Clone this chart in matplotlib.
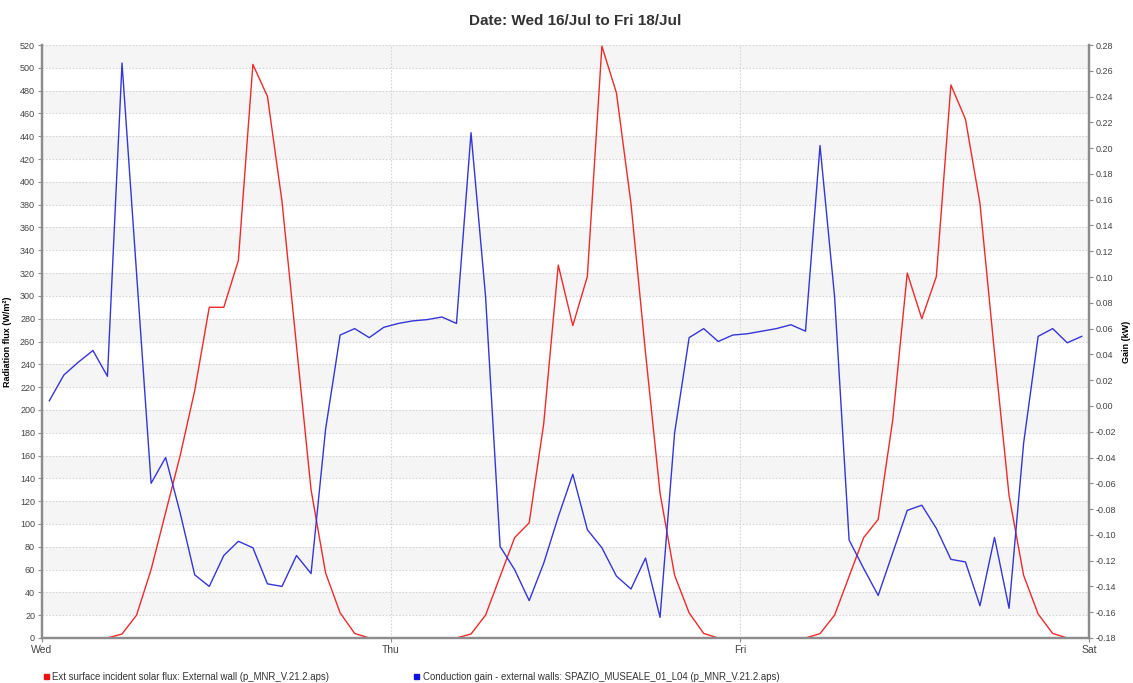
import matplotlib
matplotlib.use("Agg")
import matplotlib.pyplot as plt
from matplotlib.patches import Rectangle
import numpy as np

# hourly values, Wed 00:00 -> Sat 00:00, plotted at the middle of each hour
solar_flux = [
    0, 0, 0, 0, 0, 3.5, 20, 60, 110, 160, 217, 290,
    290, 331, 503, 475, 383, 256, 130, 57, 22, 4, 0, 0,
    0, 0, 0, 0, 0, 3.5, 20, 54, 88, 101, 188, 327,
    274, 317, 519, 478, 381, 250, 127, 55, 22, 4, 0, 0,
    0, 0, 0, 0, 0, 3.8, 20, 54, 88, 104, 191, 320,
    280, 317, 485, 455, 381, 250, 125, 55, 21, 4, 0, 0,
]
conduction_gain = [
    0.004, 0.024, 0.034, 0.043, 0.023, 0.266, 0.103, -0.060, -0.040, -0.083, -0.131, -0.140,
    -0.116, -0.105, -0.110, -0.138, -0.140, -0.116, -0.130, -0.018, 0.055, 0.060, 0.053, 0.061,
    0.064, 0.066, 0.067, 0.069, 0.064, 0.212, 0.085, -0.109, -0.127, -0.151, -0.122, -0.086,
    -0.053, -0.096, -0.110, -0.132, -0.142, -0.118, -0.164, -0.021, 0.053, 0.060, 0.050, 0.055,
    0.056, 0.058, 0.060, 0.063, 0.058, 0.202, 0.085, -0.104, -0.126, -0.147, -0.114, -0.081,
    -0.077, -0.095, -0.119, -0.121, -0.155, -0.102, -0.157, -0.029, 0.054, 0.060, 0.049, 0.054,
]
day_labels = ["Wed", "Thu", "Fri", "Sat"]
title = "Date: Wed 16/Jul to Fri 18/Jul"
flux_name = "Ext surface incident solar flux: External wall (p_MNR_V.21.2.aps)"
gain_name = "Conduction gain - external walls: SPAZIO_MUSEALE_01_L04 (p_MNR_V.21.2.aps)"

plt.rcParams["font.family"] = ["Liberation Sans", "DejaVu Sans"]

hours = (np.arange(len(solar_flux)) + 0.5) / 24.0
gain_ticks = np.round(np.arange(-0.18, 0.281, 0.02), 2)

fig = plt.figure(figsize=(11.33, 6.83), dpi=100)
ax = fig.add_axes([0.0371, 0.0659, 0.9241, 0.8682])
ax2 = ax.twinx()

# alternating horizontal bands
for lo in range(20, 520, 40):
    ax.axhspan(lo, lo + 20, color="#f5f5f5", zorder=0, lw=0)

ax.set_xlim(0, 3)
ax.set_ylim(0, 520)
ax2.set_ylim(-0.18, 0.28)

ax.set_yticks(np.arange(0, 521, 20))
ax2.set_yticks(gain_ticks)
ax2.set_yticklabels([f"{v:.2f}".replace("-0.00", "0.00") for v in gain_ticks])
ax.set_xticks(range(4))
ax.set_xticklabels(day_labels)

ax.grid(True, color="#d4d4d4", linestyle=(0, (1.5, 1.5)), lw=0.8)
ax.set_axisbelow(True)

ax.plot(hours, solar_flux, color="#ee2a2a", lw=1.0, zorder=3)
ax2.plot(hours, conduction_gain, color="#3535d8", lw=1.0, zorder=3)

for a in (ax, ax2):
    a.spines["top"].set_visible(False)
    for s in ("left", "right", "bottom"):
        a.spines[s].set_color("#8c8c8c")
        a.spines[s].set_linewidth(1.6)
    a.tick_params(axis="both", labelsize=6.5, labelcolor="#444444", color="#8c8c8c",
                  length=3, width=0.8, pad=2)
ax.tick_params(axis="x", labelsize=7.5, pad=2)

ax.set_ylabel("Radiation flux (W/m²)", fontsize=6.5, fontweight="bold", labelpad=6)
ax2.set_ylabel("Gain (kW)", fontsize=6.5, fontweight="bold", rotation=90, labelpad=4)

fig.text(0.508, 0.969, title, ha="center", va="center", fontsize=11,
         fontweight="bold", color="#333333")

# legend entries along the bottom
for x0, col, name in [(0.0388, "#ee1111", flux_name), (0.3655, "#1111dd", gain_name)]:
    fig.patches.append(Rectangle((x0, 0.0055), 0.0045, 0.0075, transform=fig.transFigure,
                                 color=col, figure=fig))
    fig.text(x0 + 0.0075, 0.0092, name, fontsize=6.9, va="center", ha="left",
             color="#333333")

fig.savefig("out.png", dpi=100)
